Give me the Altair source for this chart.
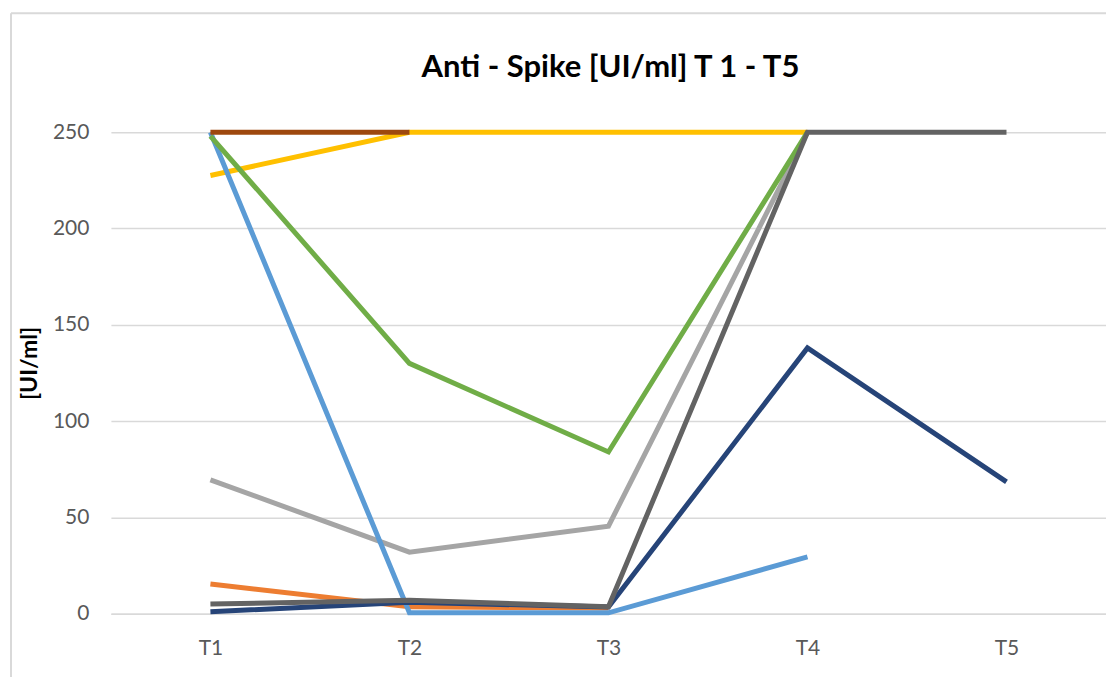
import altair as alt
import pandas as pd

times = ["T1", "T2", "T3", "T4", "T5"]

# series values (None = no point)
s_orange = [15.5, 3.6, 3.0, None, None]
s_lgray = [69.5, 32.0, 45.5, 250, None]
s_yellow = [227.5, 250, 250, 250, None]
s_lblue = [250, 0.5, 0.5, 29.5, None]
s_green = [248, 130, 84, 250, None]
s_navy = [1.0, 6.0, 3.5, 138, 68.5]
s_brown = [250, 250, None, None, None]
s_dgray = [5.0, 7.0, 3.6, 250, 250]

series_names = ["S2", "S3", "S4", "S5", "S6", "S7", "S8", "S9"]
series_values = [s_orange, s_lgray, s_yellow, s_lblue, s_green, s_navy, s_brown, s_dgray]
series_colors = ["#ED7D31", "#A5A5A5", "#FFC000", "#5B9BD5", "#70AD47", "#264478", "#9E480E", "#636363"]

title_text = "Anti - Spike [UI/ml] T 1 - T5"
y_title = "[UI/ml]"

rows = []
for order, (name, vals) in enumerate(zip(series_names, series_values)):
    for t, v in zip(times, vals):
        if v is not None:
            rows.append({"T": t, "value": v, "series": name, "order": order})
df = pd.DataFrame(rows)

FONT = "Lato"

lines = alt.Chart(df).mark_line(strokeWidth=5, strokeCap="butt", strokeJoin="miter").encode(
    x=alt.X("T:N", sort=times, scale=alt.Scale(type="point", padding=0.5),
            axis=alt.Axis(title=None, labelAngle=0, ticks=False, domain=True,
                          domainColor="#D9D9D9", domainWidth=1.5,
                          labelColor="#595959", labelFontSize=21, labelFont=FONT,
                          labelPadding=24, grid=False)),
    y=alt.Y("value:Q", scale=alt.Scale(domain=[0, 250], nice=False, zero=True),
            axis=alt.Axis(title=y_title, values=[0, 50, 100, 150, 200, 250],
                          ticks=False, domain=False, grid=True,
                          gridColor="#D9D9D9", gridWidth=1.5,
                          labelColor="#595959", labelFontSize=21, labelFont=FONT,
                          labelPadding=22,
                          titleFont=FONT, titleFontSize=23, titleFontWeight="bold",
                          titleColor="#000000", titleX=-74, titleY=231,
                          titleBaseline="alphabetic", titleAlign="center", titleAngle=270)),
    color=alt.Color("series:N", scale=alt.Scale(domain=series_names, range=series_colors), legend=None),
    order=alt.Order("order:Q"),
    detail="series:N",
)

one = pd.DataFrame({"k": [0]})
left_border = alt.Chart(one).mark_rule(color="#D9D9D9", strokeWidth=2).encode(
    x=alt.value(-100), y=alt.value(-119), y2=alt.value(700))
top_border = alt.Chart(one).mark_rule(color="#D9D9D9", strokeWidth=2).encode(
    x=alt.value(-100), x2=alt.value(1100), y=alt.value(-119))
title_mark = alt.Chart(one).mark_text(
    text=title_text, font=FONT, fontSize=31, fontWeight="bold", color="#000000",
    align="center", baseline="alphabetic").encode(
    x=alt.value(500), y=alt.value(-55))

chart = alt.layer(left_border, top_border, title_mark, lines).properties(
    width=996,
    height=482,
    autosize=alt.AutoSizeParams(type="none"),
    padding={"left": 103, "top": 124, "right": 0, "bottom": 63},
    background="white",
).configure_view(stroke=None)

chart.save("out.html", embed_options={"renderer": "svg", "actions": False})
